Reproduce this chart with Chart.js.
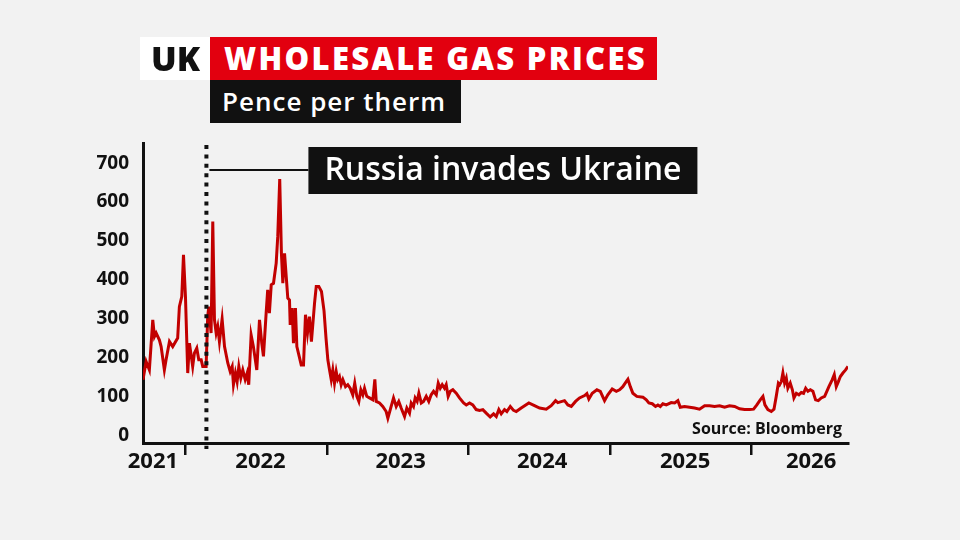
<!DOCTYPE html>
<html>
<head>
<meta charset="utf-8">
<script src="https://cdn.jsdelivr.net/npm/chart.js@4.4.1/dist/chart.umd.min.js"></script>
<style>
  body { margin: 0; background: #f2f2f2; }
  #wrap { position: relative; width: 960px; height: 540px; font-family: "Open Sans", sans-serif; overflow: hidden; }
  #grafico { position: absolute; left: 0; top: 0; }
  .box { position: absolute; box-sizing: border-box; white-space: nowrap; }
  #uk { left: 140px; top: 37px; width: 71px; height: 43px; background: #fff; color: #111;
        font-weight: 800; font-size: 34px; line-height: 43px; text-align: center; letter-spacing: 0px; }
  #titulo { left: 210px; top: 37px; width: 447px; height: 43px; background: #e2000f; color: #fff;
        font-weight: 800; font-size: 31px; line-height: 43px; padding-left: 14px; letter-spacing: 2.3px; }
  #unidade { left: 210px; top: 80px; width: 251px; height: 43px; background: #111; color: #fff;
        font-weight: 600; font-size: 26px; line-height: 42px; padding-left: 12px; letter-spacing: 1px; }
  #fonte { right: 118px; top: 417px; color: #111; font-weight: 700; font-size: 16px; }
</style>
</head>
<body>
<div id="wrap">
  <canvas id="grafico" width="960" height="540"></canvas>
  <div class="box" id="uk">UK</div>
  <div class="box" id="titulo">WHOLESALE GAS PRICES</div>
  <div class="box" id="unidade">Pence per therm</div>
  <div class="box" id="fonte">Source: Bloomberg</div>
</div>
<script>
// datas em anos decimais, preços em pence por therm
var datas = [
  2021.700, 2021.722, 2021.745, 2021.769, 2021.781, 2021.793, 2021.816, 2021.828, 2021.851, 2021.863,
  2021.887, 2021.910, 2021.945, 2021.957, 2021.974, 2021.986, 2022.000, 2022.016, 2022.028, 2022.051,
  2022.063, 2022.080, 2022.094, 2022.111, 2022.122, 2022.146, 2022.157, 2022.165, 2022.181, 2022.193,
  2022.205, 2022.217, 2022.228, 2022.240, 2022.259, 2022.276, 2022.299, 2022.316, 2022.330, 2022.339,
  2022.353, 2022.365, 2022.377, 2022.391, 2022.405, 2022.422, 2022.436, 2022.447, 2022.464, 2022.480,
  2022.504, 2022.523, 2022.539, 2022.551, 2022.570, 2022.581, 2022.593, 2022.606, 2022.622, 2022.641,
  2022.652, 2022.666, 2022.678, 2022.688, 2022.700, 2022.712, 2022.723, 2022.735, 2022.740, 2022.754,
  2022.763, 2022.777, 2022.787, 2022.818, 2022.834, 2022.848, 2022.862, 2022.876, 2022.890, 2022.912,
  2022.924, 2022.942, 2022.961, 2022.979, 2022.993, 2023.006, 2023.018, 2023.030, 2023.041, 2023.053,
  2023.065, 2023.076, 2023.088, 2023.100, 2023.112, 2023.131, 2023.147, 2023.164, 2023.182, 2023.196,
  2023.211, 2023.225, 2023.239, 2023.253, 2023.265, 2023.281, 2023.300, 2023.324, 2023.338, 2023.348,
  2023.371, 2023.394, 2023.418, 2023.430, 2023.447, 2023.470, 2023.489, 2023.507, 2023.524, 2023.548,
  2023.564, 2023.583, 2023.595, 2023.611, 2023.623, 2023.637, 2023.649, 2023.666, 2023.682, 2023.701,
  2023.719, 2023.736, 2023.753, 2023.772, 2023.786, 2023.800, 2023.814, 2023.830, 2023.842, 2023.856,
  2023.871, 2023.889, 2023.913, 2023.936, 2023.965, 2023.984, 2024.007, 2024.030, 2024.054, 2024.078,
  2024.101, 2024.125, 2024.153, 2024.177, 2024.196, 2024.214, 2024.231, 2024.254, 2024.271, 2024.295,
  2024.318, 2024.337, 2024.372, 2024.426, 2024.466, 2024.502, 2024.549, 2024.584, 2024.615, 2024.631,
  2024.678, 2024.702, 2024.726, 2024.756, 2024.784, 2024.820, 2024.836, 2024.850, 2024.874, 2024.907,
  2024.931, 2024.961, 2024.984, 2025.015, 2025.044, 2025.067, 2025.090, 2025.114, 2025.126, 2025.143,
  2025.161, 2025.189, 2025.232, 2025.256, 2025.274, 2025.298, 2025.321, 2025.338, 2025.355, 2025.373,
  2025.397, 2025.432, 2025.456, 2025.479, 2025.496, 2025.526, 2025.562, 2025.597, 2025.632, 2025.668,
  2025.703, 2025.738, 2025.774, 2025.809, 2025.844, 2025.880, 2025.915, 2025.950, 2025.986, 2026.014,
  2026.037, 2026.061, 2026.080, 2026.094, 2026.115, 2026.139, 2026.158, 2026.174, 2026.189, 2026.198,
  2026.210, 2026.221, 2026.233, 2026.245, 2026.256, 2026.273, 2026.288, 2026.299, 2026.316, 2026.334,
  2026.351, 2026.367, 2026.382, 2026.398, 2026.415, 2026.433, 2026.452, 2026.471, 2026.492, 2026.516,
  2026.546, 2026.570, 2026.584, 2026.598, 2026.613, 2026.627, 2026.645, 2026.664, 2026.681
];
var precos = [
  143, 190, 168, 297, 254, 263, 245, 228, 168, 194,
  241, 228, 250, 331, 357, 464, 357, 160, 237, 177,
  211, 224, 194, 194, 177, 177, 305, 331, 263, 550,
  297, 263, 280, 241, 299, 228, 186, 164, 177, 130,
  160, 138, 177, 147, 168, 143, 160, 130, 258, 228,
  168, 297, 237, 203, 314, 374, 314, 387, 391, 443,
  511, 659, 468, 391, 468, 408, 353, 348, 284, 327,
  237, 327, 228, 181, 181, 310, 263, 305, 241, 340,
  383, 383, 370, 320, 250, 194, 168, 143, 168, 134,
  164, 143, 151, 130, 143, 125, 130, 121, 104, 134,
  100, 87, 117, 104, 121, 100, 96, 91, 144, 87,
  83, 74, 61, 44, 66, 96, 74, 87, 70, 48,
  70, 57, 83, 74, 96, 87, 108, 83, 87, 100,
  87, 104, 113, 104, 134, 121, 130, 121, 130, 100,
  113, 117, 108, 96, 83, 78, 83, 78, 66, 64,
  66, 57, 47, 55, 48, 66, 55, 66, 61, 74,
  64, 61, 70, 83, 76, 70, 67, 76, 89, 84,
  89, 78, 74, 87, 96, 102, 107, 93, 108, 117,
  113, 89, 104, 119, 113, 117, 125, 138, 144, 125,
  108, 100, 98, 91, 83, 81, 74, 78, 74, 81,
  78, 84, 83, 89, 72, 74, 72, 70, 67, 76,
  76, 74, 76, 72, 76, 74, 68, 66, 66, 67,
  78, 91, 100, 78, 66, 61, 67, 100, 134, 130,
  138, 160, 134, 147, 121, 134, 117, 96, 108, 104,
  110, 108, 121, 113, 117, 113, 91, 89, 96, 100,
  125, 143, 156, 125, 138, 151, 160, 168, 177
];
var inicio = 2021.70;
var fim = 2026.681;
var marcasY = [0, 100, 200, 300, 400, 500, 600, 700];
var limitesAno = [2022, 2023, 2024, 2025, 2026];
var rotulosAno = ['2021', '2022', '2023', '2024', '2025', '2026'];
var posRotulosAno = [2021.77, 2022.53, 2023.52, 2024.52, 2025.53, 2026.42];
var dataInvasao = 2022.148;
var textoInvasao = 'Russia invades Ukraine';

const linhaInvasao = {
    id: 'linhaInvasao',
    afterDatasetsDraw(chart) {
        const ctx = chart.ctx;
        const area = chart.chartArea;
        const px = chart.scales.x.getPixelForValue(dataInvasao);
        ctx.save();
        // linha pontilhada
        ctx.strokeStyle = '#111';
        ctx.lineWidth = 4;
        ctx.setLineDash([4, 5.4]);
        ctx.beginPath();
        ctx.moveTo(px, area.top + 2);
        ctx.lineTo(px, area.bottom + 6);
        ctx.stroke();
        // ligação até a caixa
        ctx.setLineDash([]);
        ctx.lineWidth = 2;
        const yLinha = area.top + 27;
        const caixaX = px + 102;
        ctx.beginPath();
        ctx.moveTo(px + 3, yLinha);
        ctx.lineTo(caixaX, yLinha);
        ctx.stroke();
        // caixa preta com texto
        ctx.fillStyle = '#111';
        ctx.fillRect(caixaX, area.top + 4, 389, 47);
        ctx.fillStyle = '#fff';
        ctx.font = '600 32px "Open Sans"';
        ctx.textAlign = 'center';
        ctx.textBaseline = 'middle';
        ctx.fillText(textoInvasao, caixaX + 389 / 2, area.top + 28);
        ctx.restore();
    }
};

var fonteEixo = { family: 'Open Sans', weight: 'bold', size: 19 };

new Chart(document.getElementById('grafico'), {
    type: 'line',
    data: {
        datasets: [{
            data: datas.map(function (d, i) { return { x: d, y: precos[i] }; }),
            borderColor: '#c20000',
            borderWidth: 3,
            pointRadius: 0,
            tension: 0
        }]
    },
    options: {
        responsive: false,
        animation: false,
        layout: { padding: { left: 0, right: 112, top: 143, bottom: 57 } },
        plugins: { legend: { display: false }, tooltip: { enabled: false } },
        scales: {
            x: {
                type: 'linear', min: inicio, max: fim,
                afterBuildTicks: function (s) { s.ticks = limitesAno.map(function (v) { return { value: v }; }); },
                afterFit: function (s) { s.height = 6; },
                grid: { display: true, drawOnChartArea: false, drawTicks: true, tickLength: 12, color: '#111', lineWidth: 2.5 },
                border: { display: true, color: '#111', width: 3 },
                ticks: { display: false }
            },
            xl: {
                type: 'linear', axis: 'x', position: 'bottom', min: inicio, max: fim,
                afterBuildTicks: function (s) { s.ticks = posRotulosAno.map(function (v) { return { value: v }; }); },
                afterFit: function (s) { s.height = 34; },
                grid: { display: false, drawTicks: false },
                border: { display: false },
                ticks: {
                    autoSkip: false, maxRotation: 0, padding: 0, color: '#111',
                    font: { family: 'Open Sans', weight: 'bold', size: 22 },
                    callback: function (v, i) { return rotulosAno[i]; }
                }
            },
            y: {
                min: -20, max: 752,
                afterBuildTicks: function (s) { s.ticks = marcasY.map(function (v) { return { value: v }; }); },
                afterFit: function (s) { s.width = 143; },
                grid: { display: false, drawTicks: false },
                border: { display: true, color: '#111', width: 3 },
                ticks: { padding: 14, color: '#111', font: fonteEixo }
            }
        }
    },
    plugins: [linhaInvasao]
});
</script>
</body>
</html>
